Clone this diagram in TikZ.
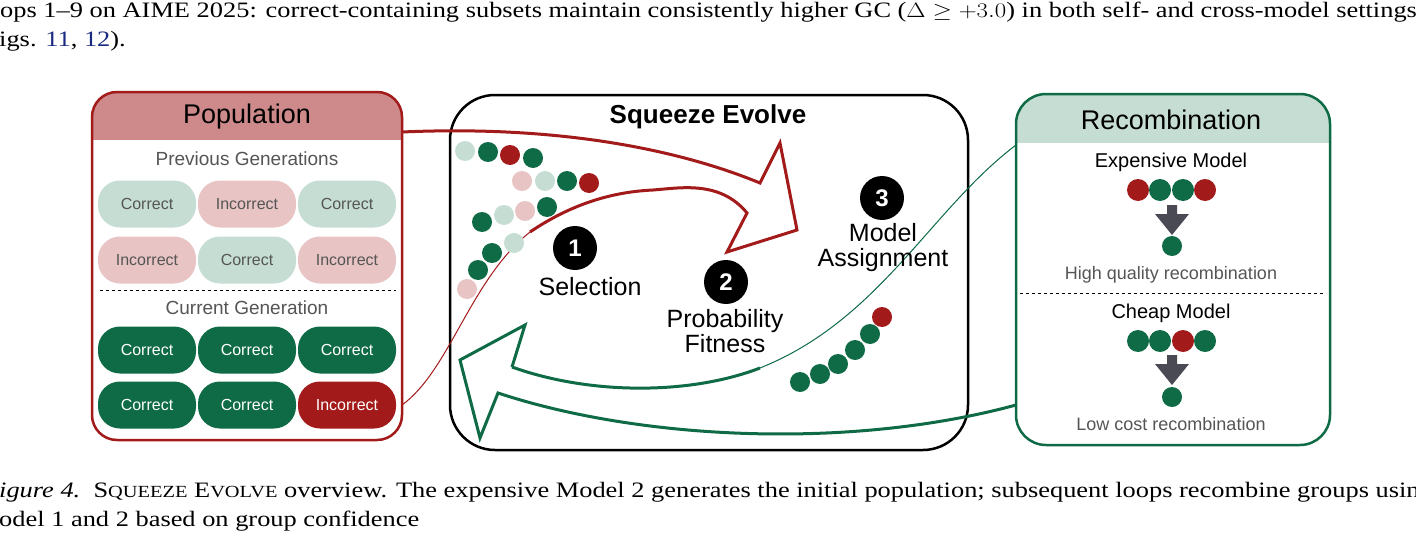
\documentclass[tikz,border=0pt]{standalone}
\usepackage{fontspec}
\setmainfont{Liberation Sans}
\newfontfamily\capfont{Liberation Serif}
\begin{document}
\definecolor{dred}{HTML}{A31A1A}
\definecolor{dgreen}{HTML}{0E6B45}
\definecolor{lgreen}{HTML}{C5DDD2}
\definecolor{lpink}{HTML}{E8C4C4}
\definecolor{hpink}{HTML}{CE8A8A}
\definecolor{gtxt}{HTML}{555555}
\definecolor{linkblue}{HTML}{1A2A80}
\definecolor{arrgray}{HTML}{4A4A55}
\begin{tikzpicture}[x=1pt,y=-1pt,
  pill/.style={rounded corners=22pt,minimum width=98pt,minimum height=47pt,inner sep=0pt,font=\fontsize{16}{16}\selectfont},
  pl/.style={pill,fill=lgreen,text=gtxt},
  pp/.style={pill,fill=lpink,text=gtxt},
  pg/.style={pill,fill=dgreen,text=white},
  pr/.style={pill,fill=dred,text=white},
  dot/.style={circle,inner sep=0pt,minimum size=20pt},
  num/.style={circle,fill=black,text=white,inner sep=0pt,minimum size=44pt,font=\bfseries\fontsize{24}{24}\selectfont},
  lbl/.style={align=center,font=\fontsize{25}{25}\selectfont},
  gt/.style={text=gtxt,font=\fontsize{19}{19}\selectfont},
  bt/.style={font=\fontsize{20}{20}\selectfont},
  captxt/.style={anchor=base west,inner sep=0pt,font=\capfont\fontsize{22}{22}\selectfont}]
\useasboundingbox (0,0) rectangle (1416,543);
\clip (0,0) rectangle (1416,543);
\fill[white] (0,0) rectangle (1416,543);
% surrounding text
\node[captxt] (t1) at (0,18) {\scalebox{1.2}[1]{ops 1–9 on AIME 2025: correct-containing subsets maintain consistently higher GC ($\Delta \geq +3.0$) in both self- and cross-model settings}};
\node[captxt] (t2) at (-1,47) {\scalebox{1.2}[1]{igs. \textcolor{linkblue}{11}, \textcolor{linkblue}{12}).}};
\node[captxt] (c1) at (-1,497) {\scalebox{1.2}[1]{\itshape igure 4.\upshape\ \ S{\fontsize{17}{17}\selectfont QUEEZE} E{\fontsize{17}{17}\selectfont VOLVE} overview. The expensive Model 2 generates the initial population; subsequent loops recombine groups using}};
\node[captxt] (c2) at (-1,526) {\scalebox{1.2}[1]{odel 1 and 2 based on group confidence}};
% Population box
\begin{scope}
\clip[rounded corners=25pt] (92,92) rectangle (402,440);
\fill[hpink] (92,92) rectangle (402,140);
\end{scope}
\draw[dred,line width=2.5pt,rounded corners=25pt] (92,92) rectangle (402,440);
\node[font=\fontsize{27}{27}\selectfont] (poph) at (247,117) {Population};
\node[gt] (prev) at (247,159) {Previous Generations};
\node[pl] (a1) at (147,204) {Correct};
\node[pp] (a2) at (247,204) {Incorrect};
\node[pl] (a3) at (347,204) {Correct};
\node[pp] (b1) at (147,260) {Incorrect};
\node[pl] (b2) at (247,260) {Correct};
\node[pp] (b3) at (347,260) {Incorrect};
\draw[dashed,line width=1pt] (100,290) -- (396,290);
\node[gt] (cur) at (247,308) {Current Generation};
\node[pg] (c1p) at (147,350) {Correct};
\node[pg] (c2p) at (247,350) {Correct};
\node[pg] (c3p) at (347,350) {Correct};
\node[pg] (d1) at (147,405) {Correct};
\node[pg] (d2) at (247,405) {Correct};
\node[pr] (d3) at (347,405) {Incorrect};
% Squeeze Evolve box
\draw[black,line width=2.5pt,rounded corners=45pt] (450,95) rectangle (968,450);
\node[font=\bfseries\fontsize{26}{26}\selectfont] (sqh) at (708,117) {Squeeze Evolve};
% red arrow
\draw[dred,line width=3pt,line join=miter] (402,132) .. controls (560,125) and (680,150) .. (760,183) -- (780,143) -- (797,230) -- (727,252) -- (747,213) .. controls (720,180) and (680,188) .. (653,190);
\draw[dred,line width=3pt] (653,190) .. controls (610,192) and (570,205) .. (530,232);
\draw[dred,line width=1pt] (530,232) .. controls (470,280) and (450,370) .. (402,405);
% green arrow
\draw[dgreen,line width=1pt] (1016,145) .. controls (930,210) and (880,320) .. (760,368);
\draw[dgreen,line width=3pt] (760,368) .. controls (690,395) and (590,395) .. (512,367);
\draw[dgreen,line width=3pt,line join=miter] (512,367) -- (525,325) -- (460,360) -- (480,438) -- (498,393) .. controls (640,440) and (850,450) .. (1016,405);
% dots
\foreach \x/\y/\c [count=\i] in {465/151/lgreen,488/152/dgreen,510/155/dred,533/158/dgreen,
  522/181/lpink,545/181/lgreen,567/181/dgreen,589/183/dred,
  482/222/dgreen,504/215/lgreen,525/211/lpink,547/207/dgreen,
  467/289/lpink,478/270/dgreen,492/253/dgreen,514/243/lgreen,
  800/382/dgreen,820/374/dgreen,838/364/dgreen,855/350/dgreen,870/334/dgreen,882/317/dred}
  \node[dot,fill=\c] (s\i) at (\x,\y) {};
\node[num] (n1) at (575,248) {1};
\node[lbl] (l1) at (590,287) {Selection};
\node[num] (n2) at (726,282) {2};
\node[lbl] (l2) at (725,331) {Probability\\Fitness};
\node[num] (n3) at (882,198) {3};
\node[lbl] (l3) at (883,248) {Model\\Assignment};
% Recombination
\begin{scope}
\clip[rounded corners=30pt] (1016,94) rectangle (1330,445);
\fill[lgreen] (1016,94) rectangle (1330,143);
\end{scope}
\draw[dgreen,line width=2.5pt,rounded corners=30pt] (1016,94) rectangle (1330,445);
\node[font=\fontsize{27}{27}\selectfont] (rech) at (1171,120) {Recombination};
\node[bt] (em) at (1171,162) {Expensive Model};
\foreach \x/\c [count=\i] in {1138/dred,1160/dgreen,1183/dgreen,1205/dred}
  \node[dot,fill=\c,minimum size=22pt] (e\i) at (\x,190) {};
\fill[arrgray] (1167,205) -- (1177,205) -- (1177,214) -- (1189,214) -- (1172,235) -- (1155,214) -- (1167,214) -- cycle;
\node[dot,fill=dgreen] (eo) at (1172,246) {};
\node[gt,font=\fontsize{18}{18}\selectfont] (hq) at (1171,275) {High quality recombination};
\draw[dashed,line width=1pt] (1020,293) -- (1325,293);
\node[bt] (cm) at (1171,313) {Cheap Model};
\foreach \x/\c [count=\i] in {1138/dgreen,1160/dgreen,1183/dred,1205/dgreen}
  \node[dot,fill=\c,minimum size=22pt] (k\i) at (\x,341) {};
\fill[arrgray] (1167,355) -- (1177,355) -- (1177,364) -- (1189,364) -- (1172,385) -- (1155,364) -- (1167,364) -- cycle;
\node[dot,fill=dgreen] (ko) at (1172,397) {};
\node[gt,font=\fontsize{18}{18}\selectfont] (lc) at (1171,424) {Low cost recombination};
\end{tikzpicture}
\end{document}
